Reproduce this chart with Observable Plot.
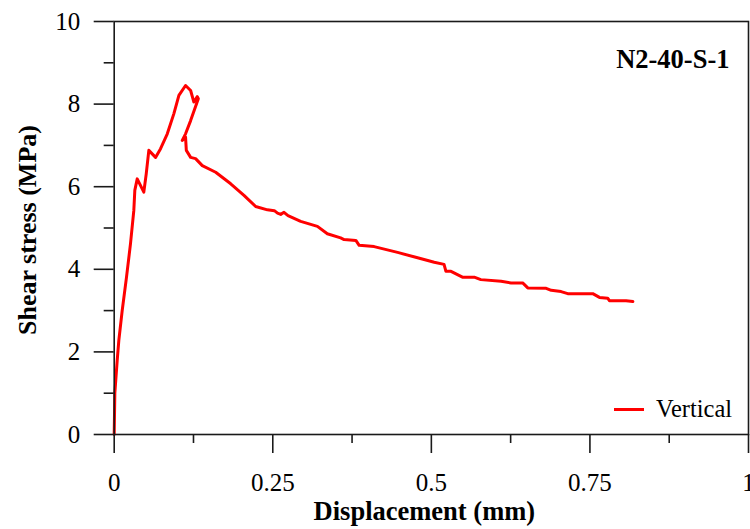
<!DOCTYPE html>
<html>
<head>
<meta charset="utf-8">
<script src="https://cdn.jsdelivr.net/npm/d3@7"></script>
<script src="https://cdn.jsdelivr.net/npm/@observablehq/plot@0.6"></script>
<style>
  html, body { margin: 0; padding: 0; background: #fff; }
  #wrap { position: relative; width: 750px; height: 529px; font-family: "Liberation Serif", "Times New Roman", serif; }
  #legend { position: absolute; left: 614px; top: 395px; display: flex; align-items: center; font-size: 24.5px; color: #000; }
  #legend .sw { width: 30px; height: 0; border-top: 3px solid #ff0000; margin-right: 12px; }
</style>
</head>
<body>
<div id="wrap"><div id="legend"><span class="sw"></span><span>Vertical</span></div></div>
<script>
const displacement = [0, 0.001, 0.0047, 0.0073, 0.0126, 0.0194, 0.0257, 0.0309, 0.0325, 0.0363, 0.0467, 0.0505, 0.0546, 0.0652, 0.0731, 0.0837, 0.0941, 0.102, 0.1125, 0.1205, 0.1256, 0.131, 0.1326, 0.1205, 0.1125, 0.1073, 0.1125, 0.1137, 0.1205, 0.1283, 0.1389, 0.160, 0.1837, 0.2046, 0.223, 0.2415, 0.2525, 0.2575, 0.2625, 0.2677, 0.274, 0.294, 0.3204, 0.336, 0.357, 0.3624, 0.381, 0.3862, 0.4098, 0.4467, 0.4783, 0.5045, 0.520, 0.523, 0.531, 0.549, 0.5676, 0.578, 0.610, 0.6256, 0.644, 0.652, 0.681, 0.689, 0.7045, 0.715, 0.7545, 0.765, 0.778, 0.7807, 0.807, 0.8177];
const shearStress = [0, 1.0, 1.79, 2.28, 3.00, 3.81, 4.62, 5.42, 5.91, 6.19, 5.87, 6.31, 6.88, 6.71, 6.92, 7.28, 7.77, 8.21, 8.45, 8.33, 8.05, 8.18, 8.13, 7.60, 7.28, 7.12, 7.20, 6.88, 6.71, 6.68, 6.51, 6.35, 6.07, 5.79, 5.52, 5.44, 5.42, 5.36, 5.33, 5.38, 5.30, 5.16, 5.04, 4.86, 4.76, 4.72, 4.70, 4.58, 4.55, 4.41, 4.28, 4.17, 4.12, 3.95, 3.95, 3.81, 3.81, 3.75, 3.71, 3.67, 3.67, 3.55, 3.54, 3.49, 3.46, 3.41, 3.41, 3.32, 3.30, 3.24, 3.24, 3.22];
const xMajorTicks = [0, 0.25, 0.5, 0.75, 1];
const xMinorTicks = [0.125, 0.375, 0.625, 0.875];
const yMajorTicks = [0, 2, 4, 6, 8, 10];
const yMinorTicks = [1, 3, 5, 7, 9];
const seriesName = "Vertical";
const specimen = "N2-40-S-1";
const xTitle = "Displacement (mm)";
const yTitle = "Shear stress (MPa)";

const data = displacement.map((d, i) => ({x: d, y: shearStress[i]}));
const fmt = d => String(d);

const chart = Plot.plot({
  width: 750,
  height: 529,
  marginLeft: 113.7,
  marginRight: 2,
  marginTop: 21,
  marginBottom: 95,
  style: {fontFamily: "'Liberation Serif', 'Times New Roman', serif", fontSize: "24px", color: "#000", background: "#fff"},
  x: {domain: [0, 1]},
  y: {domain: [0, 10]},
  marks: [
    Plot.line(data, {x: "x", y: "y", stroke: "#ff0000", strokeWidth: 3, strokeLinejoin: "round"}),
    Plot.frame({stroke: "#1a1a1a", strokeWidth: 1.6}),
    Plot.axisX({ticks: xMajorTicks, tickSize: 19, tickPadding: 20, tickFormat: fmt, label: null, stroke: "#1a1a1a", strokeWidth: 1.6, fontSize: 25}),
    Plot.axisX({ticks: xMinorTicks, tickSize: 9, tickFormat: () => "", label: null, stroke: "#1a1a1a", strokeWidth: 1.6}),
    Plot.axisY({ticks: yMajorTicks, tickSize: 20, tickPadding: 14, tickFormat: fmt, label: null, stroke: "#1a1a1a", strokeWidth: 1.6, fontSize: 25}),
    Plot.axisY({ticks: yMinorTicks, tickSize: 10, tickFormat: () => "", label: null, stroke: "#1a1a1a", strokeWidth: 1.6}),
    Plot.text([yTitle], {frameAnchor: "left", dx: -87, dy: 2, rotate: -90, fontWeight: "bold", fontSize: 26, textAnchor: "middle", lineAnchor: "middle"}),
    Plot.text([xTitle], {frameAnchor: "bottom", dx: -7, dy: 77, fontWeight: "bold", fontSize: 26.5, textAnchor: "middle", lineAnchor: "middle"}),
    Plot.text([specimen], {frameAnchor: "top-right", dx: -19, dy: 38, fontWeight: "bold", fontSize: 26.5, textAnchor: "end", lineAnchor: "middle"})
  ]
});
document.getElementById("wrap").prepend(chart);
document.querySelector("#legend span:last-child").textContent = seriesName;
</script>
</body>
</html>
